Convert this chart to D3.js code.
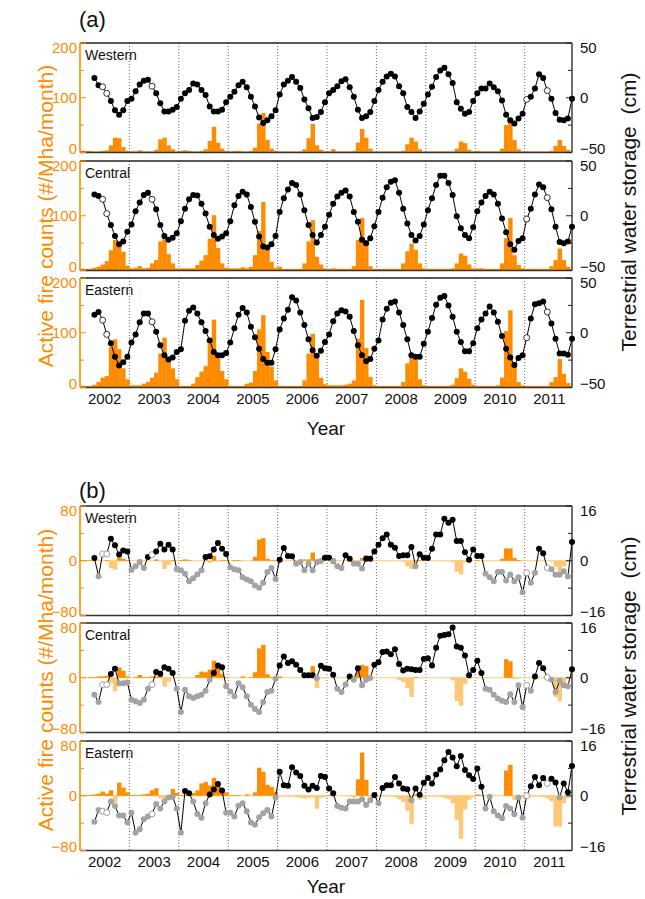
<!DOCTYPE html>
<html>
<head>
<meta charset="utf-8">
<script src="https://cdn.jsdelivr.net/npm/d3@7"></script>
<style>
  body { margin: 0; background: #fff; }
  svg { display: block; }
  text { font-family: "Liberation Sans", Arial, sans-serif; }
</style>
</head>
<body>
<div id="chart"></div>
<script>
/* DATA (monthly, Jan 2002 - Dec 2011, one row per year) */
const years = [2002, 2003, 2004, 2005, 2006, 2007, 2008, 2009, 2010, 2011];
const regions = ["Western", "Central", "Eastern"];
// months where the water storage value is interpolated (open circles): Jun/Jul 2002, Jun 2003, Jan/Jun 2011
const interpolatedMonths = [5, 6, 17, 108, 113];

// (a) active fire counts, #/Mha/month
const fireA_W = [
  [3,3,3,2,2,3,4,13,27,26,10,3],
  [2,2,4,2,2,2,5,24,27,13,6,2],
  [3,4,3,2,2,3,6,21,47,18,7,3],
  [2,3,3,2,2,3,9,53,72,23,7,3],
  [2,2,2,2,2,2,6,26,52,13,5,2],
  [2,6,2,2,2,2,3,18,43,27,7,2],
  [2,2,2,2,2,2,3,15,27,20,6,2],
  [2,2,2,2,2,2,2,7,20,17,5,2],
  [3,2,2,2,2,2,7,50,60,23,6,2],
  [2,2,2,2,2,2,3,12,23,12,5,2]
].flat();
const fireA_C = [
  [3,3,3,5,7,11,17,37,56,49,34,9],
  [4,5,8,4,5,13,19,53,60,30,13,4],
  [4,4,4,4,10,18,28,58,101,41,13,5],
  [4,4,4,6,4,7,28,72,125,38,16,5],
  [7,3,3,3,3,3,13,53,92,25,11,4],
  [3,4,3,3,3,3,8,56,96,55,8,3],
  [3,3,3,3,3,3,13,35,49,38,13,4],
  [3,3,3,3,3,3,4,13,31,27,11,4],
  [4,4,3,3,3,3,13,59,96,28,10,4],
  [3,3,3,3,3,3,8,19,40,19,7,3]
].flat();
const fireA_E = [
  [3,3,3,5,10,18,21,74,88,70,35,15],
  [4,4,4,7,10,18,27,62,91,55,35,15],
  [3,3,3,7,19,29,39,80,124,62,30,15],
  [3,3,3,3,7,9,30,106,132,65,38,13],
  [3,3,3,3,3,3,13,62,98,53,18,6],
  [4,4,4,4,5,7,13,89,160,72,19,4],
  [3,3,3,3,3,3,10,44,59,55,15,4],
  [3,3,3,3,3,3,5,17,35,29,16,5],
  [3,3,3,3,3,4,18,103,141,45,10,4],
  [3,3,3,3,3,3,10,19,52,25,8,3]
].flat();

// (a) terrestrial water storage, cm
const twsA_W = [
  [null,null,null,18,11.5,10,4,-3,-11.5,-15.5,-11.5,-3],
  [-1,6,12,15.5,16.5,10.5,4,-5,-12.5,-12.5,-11,-8.5],
  [-1,4,7,13,12,7,2.5,-8,-12.5,-12.5,-11,-4],
  [1,5.5,11.5,14.5,9.5,1,-8,-18,-23,-20.5,-17,-11.5],
  [3,12,15.5,19,14.5,9,-1.5,-9.5,-18.5,-17.5,-13,-4],
  [4,7,10.5,15,17,9.5,1,-11,-18.5,-17,-13,-3],
  [7,14.5,19.5,22,19.5,10.5,4,-8.5,-13,-18.5,-12.5,-5.5],
  [3,10,19,25,27.5,21.5,13.5,-4,-10,-14.5,-13,-3],
  [4,8.5,8.5,13,9.5,6,-2.5,-15.5,-20.5,-23.5,-19,-14.5],
  [-1.5,1,8.5,21.5,18,6.5,-1,-14,-20,-20.5,-19,-1]
].flat();
const twsA_C = [
  [null,null,null,19.5,18,15,2,-8.5,-18.5,-26,-23.5,-14.5],
  [-8,4,12,19,21,15,6,-8.5,-18.5,-22,-20,-16],
  [-5,6.5,15,19,18.5,11,2,-10,-17.5,-21,-19,-16],
  [-5,9.5,18,22,19.5,8,-5.5,-19,-28,-29,-26,-18.5],
  [3.5,16,24,30,28,19.5,5,-8.5,-17.5,-24.5,-17.5,-10],
  [1,11,17.5,21,23,17.5,3.5,-5.5,-22,-25,-20.5,-9.5],
  [3.5,16.5,26,31,32.5,21,6.5,-7,-17.5,-22.5,-18.5,-8],
  [5,16,28,36.5,36.5,30,19,-0.5,-11.5,-17.5,-20.5,-10.5],
  [4,12,18,22,19.5,11,-2.5,-15,-26,-31,-23,-20.5],
  [-3,6.5,19.5,28.5,26,16.5,6,-10,-24,-25,-23.5,-10]
].flat();
const twsA_E = [
  [null,null,null,16.5,19,11.5,-1.5,-9.5,-22,-30,-27,-22],
  [-9,-1.5,9.5,17.5,17.5,10,1,-11.5,-20.5,-24.5,-22.5,-17.5],
  [-15,11,20,23,17.5,9.5,1.5,-7,-17.5,-20.5,-20.5,-18.5],
  [-9,4,16.5,22.5,18.5,5.5,-4,-14.5,-24,-27.5,-27.5,-15],
  [3,13,21,32.5,29.5,18.5,7,-6,-16,-21,-16.5,-8.5],
  [-1.5,10.5,17.5,20.5,19.5,14.5,1.5,-11.5,-20.5,-26,-24,-14.5],
  [-7,12,22,27.5,28.5,18.5,7,-6,-20.5,-22,-22,-10],
  [1,13.5,25.5,32,33.5,25,14.5,1,-8.5,-17,-17,-9.5],
  [4,12,17.5,24,18.5,10,-3,-14.5,-22.5,-29.5,-23,-20.5],
  [-4.5,13,26,27,28.5,19,8.5,-5.5,-19,-19,-20,-5.5]
].flat();

// (b) fire count anomalies, #/Mha/month
const fireB_W = [
  [1,1,1,0,0,0,1,-11,-13,5,3,1],
  [0,0,2,0,0,0,2,0,-12,-6,1,0],
  [1,2,1,0,0,0,2,-3,7,-1,1,1],
  [0,1,1,0,0,0,6,31,33,3,1,1],
  [0,0,0,0,0,0,2,2,12,-6,-1,0],
  [0,4,0,0,0,0,-1,-5,4,8,2,0],
  [0,0,0,0,0,0,-1,-8,-12,1,1,0],
  [0,0,0,0,0,0,-2,-16,-20,-2,-1,0],
  [1,0,0,0,0,0,3,18,18,4,1,0],
  [0,0,0,0,0,0,-1,-9,-16,-8,-1,0]
].flat();
const fireB_C = [
  [0,0,1,1,2,2,3,-8,-20,15,10,2],
  [0,1,4,1,1,2,2,4,-13,-6,0,0],
  [0,0,0,0,4,9,8,12,25,14,5,1],
  [0,0,0,2,0,1,8,43,48,5,1,0],
  [2,0,0,0,0,0,-1,3,17,-15,-1,0],
  [0,0,0,0,0,0,-1,12,19,17,-1,0],
  [0,0,0,0,0,-3,-6,-15,-28,1,0,0],
  [0,0,0,0,0,-1,-4,-34,-41,-9,-1,0],
  [0,0,0,0,0,0,0,27,24,-2,-1,0],
  [0,0,0,0,0,0,-5,-28,-34,-13,-1,0]
].flat();
const fireB_E = [
  [1,1,1,2,3,6,3,8,-10,19,12,5],
  [1,1,1,2,3,8,11,-4,-5,1,10,4],
  [1,1,1,4,8,18,20,15,26,13,10,5],
  [1,1,1,0,2,0,5,41,35,16,13,6],
  [-1,-1,-1,-1,-2,-3,-4,-3,-2,-19,-3,-2],
  [1,1,0,0,0,-1,-3,24,63,23,-2,-2],
  [-1,-1,-1,-1,-2,-5,-9,-22,-41,2,-6,-3],
  [-1,-1,-1,-2,-3,-5,-11,-35,-63,-20,-6,-2],
  [2,1,0,0,0,0,0,37,45,-6,-8,-3],
  [-1,-1,-1,-1,-2,-4,-8,-45,-45,-11,-3,-1]
].flat();

// (b) water storage anomalies, cm
const twsB_W = [
  [null,null,null,0.8,-4.5,2,2,6.4,4.5,1.8,3,2.7],
  [-2.6,-1.6,-0.4,-2.1,1.1,1.8,2.7,5,3.3,4.7,3.3,-2.5],
  [-2.8,-3.8,-6,-5.1,-4,-2.8,1.1,1.3,3.3,5.2,3.5,2],
  [-1.9,-2.5,-2.8,-4.8,-5.5,-6,-7.2,-7.9,-6.4,-3.3,-2.1,-5.3],
  [0.3,3.7,1.4,1.3,-0.9,-0.4,-2.8,-0.9,-2.8,-0.4,-0.1,0.9],
  [0.9,-0.2,-1.6,-2.1,1.6,0.6,-0.9,-0.9,-2.3,0.6,0.6,2.7],
  [4.7,6.6,7.7,4.7,3.8,1.4,1.6,1.6,4,-1.6,1.9,0.9],
  [0.8,3.5,7.7,7.7,12.3,11.1,12,5.8,5.8,2.5,0.3,3.3],
  [1.4,1.4,-3.8,-4.8,-6,-3.3,-3.3,-5.8,-4,-6,-4.8,-9.2],
  [-3.5,-6.4,-3.5,3.5,2.2,-2.1,-2.5,-4.1,-4.1,-3.1,-4.6,5.5]
].flat();
const twsB_C = [
  [null,null,null,-5,-7.1,-2,-2,1.1,2.6,-1.7,-1.6,-1.4],
  [-6.4,-6.9,-7.4,-6.4,-3.2,-2,1.7,1.2,3.1,2.6,1.4,-3.2],
  [-10,-3.5,-5.4,-5.9,-5.4,-5,-3.8,-0.6,1.4,3.6,3.1,-2.5],
  [-4,-5.4,-1.6,-2.8,-5.4,-7.9,-9.1,-10,-7.1,-4.2,-3.8,-0.3],
  [3.6,6.2,4.3,4.8,3.8,2.3,0.7,0.7,0.7,-0.1,3.5,2.8],
  [2.6,0.9,-3.2,-4.2,-2,0.4,-0.6,2.8,-2.2,-0.6,-0.1,3.8],
  [4.5,7.5,7.7,6.9,8.3,4,2.1,2.6,2.5,2.3,2.3,5.5],
  [5.7,3.6,8.8,12.3,12.5,12.7,14.7,9.1,8.8,6.5,0.7,2.3],
  [5,1.4,-3.2,-3.5,-5,-6.1,-6.7,-7.1,-4.8,-7.1,-2.2,-8.6],
  [-2.2,-3.8,0.4,4.3,2.8,0.1,-0.6,-4.2,-0.9,-2.2,-2.5,2.5]
].flat();
const twsB_E = [
  [null,null,null,-7.6,-4.2,-4.5,-4.9,-1.7,-3,-5.8,-5.8,-7.8],
  [-5,-10.8,-9.8,-6.9,-6.1,-5.3,-2.4,-3.7,-1.7,-0.5,-0.3,-3.7],
  [-10.8,1.4,0.7,-1.7,-5.3,-6.4,-2.2,0.4,1.8,3.4,1.5,-5],
  [-5,-6.1,-2.9,-2.2,-4.5,-7.8,-8.5,-6.3,-5.1,-4.2,-6.1,-0.5],
  [7,3.1,2.9,8.3,6.8,5.8,2.9,1.8,2.9,2.3,5.8,5.5],
  [2.1,0.7,-3,-3.5,-3.7,-1.7,-1.7,-1.7,-1,-2.7,-1.3,0.2],
  [-2.2,2.3,3.1,3.1,5.5,3.6,2.1,1.9,-1.3,2.1,0.3,3.8],
  [5.2,3.6,6.2,7.7,10.4,12.8,11.2,8.6,11.6,7.5,6,4.9],
  [8,2.6,-3.7,-0.3,-4.5,-5.8,-6.6,-3,-3.7,-5.4,-0.5,-6.4],
  [0,2.8,5.5,3.1,5.2,3.6,5,3.9,-0.5,3.6,1,8.7]
].flat();

/* LAYOUT */
const width = 645, height = 899;
const x0 = 80, x1 = 572;
const orange = "#FF8C00", lightOrange = "#FFC878", grey = "#A3A3A3";

// x in months since Jan 2002; the frame ends at the centre of Dec 2011
const xScale = d3.scaleLinear().domain([0, 119.5]).range([x0, x1]);

const svg = d3.select("#chart").append("svg")
  .attr("width", width)
  .attr("height", height);

const panelsA = [
  { name: regions[0], top: 43, fire: fireA_W, tws: twsA_W },
  { name: regions[1], top: 161, fire: fireA_C, tws: twsA_C },
  { name: regions[2], top: 278, fire: fireA_E, tws: twsA_E }
];
const panelsB = [
  { name: regions[0], top: 506, fire: fireB_W, tws: twsB_W },
  { name: regions[1], top: 623, fire: fireB_C, tws: twsB_C },
  { name: regions[2], top: 741, fire: fireB_E, tws: twsB_E }
];
const panelH = 109.5;

const axisA = { left: [0, 200], leftTicks: [0, 100, 200], leftMinor: [50, 150],
  right: [-50, 50], rightTicks: [-50, 0, 50], rightMinor: [-25, 25] };
const axisB = { left: [-80, 80], leftTicks: [-80, 0, 80], leftMinor: [-40, 40],
  right: [-16, 16], rightTicks: [-16, 0, 16], rightMinor: [-8, 8] };

const fmt = d => (d < 0 ? "\u2212" + Math.abs(d) : String(d));

function drawPanel(p, ax, mode) {
  const top = p.top, bottom = p.top + panelH;
  const yL = d3.scaleLinear().domain(ax.left).range([bottom, top]);
  const yR = d3.scaleLinear().domain(ax.right).range([bottom, top]);
  const g = svg.append("g");
  const clipId = "clip-" + mode + "-" + p.name;

  svg.append("clipPath").attr("id", clipId)
    .append("rect")
    .attr("x", x0).attr("y", top)
    .attr("width", x1 - x0).attr("height", panelH);

  // dotted year separators
  g.append("g").selectAll("line")
    .data(years.slice(1))
    .join("line")
    .attr("x1", d => xScale((d - 2002) * 12))
    .attr("x2", d => xScale((d - 2002) * 12))
    .attr("y1", top).attr("y2", bottom)
    .attr("stroke", "#666")
    .attr("stroke-width", 1)
    .attr("stroke-dasharray", "1,2");

  // fire bars
  const bw = xScale(1) - xScale(0);
  const barG = g.append("g").attr("clip-path", `url(#${clipId})`);
  if (mode === "b") {
    barG.append("line")
      .attr("x1", x0).attr("x2", x1)
      .attr("y1", yL(0)).attr("y2", yL(0))
      .attr("stroke", lightOrange)
      .attr("stroke-width", 1);
  }
  barG.selectAll("rect")
    .data(p.fire)
    .join("rect")
    .attr("x", (d, i) => xScale(i))
    .attr("width", bw + 0.3)
    .attr("y", d => yL(Math.max(d, 0)))
    .attr("height", d => Math.abs(yL(d) - yL(0)))
    .attr("fill", d => (mode === "a" || d >= 0) ? orange : lightOrange);

  // frame
  g.append("line").attr("x1", x0).attr("x2", x1).attr("y1", top).attr("y2", top)
    .attr("stroke", "#222").attr("stroke-width", 1.3);
  g.append("line").attr("x1", x0).attr("x2", x1).attr("y1", bottom).attr("y2", bottom)
    .attr("stroke", "#333").attr("stroke-width", 1.3);
  g.append("line").attr("x1", x1).attr("x2", x1).attr("y1", top).attr("y2", bottom)
    .attr("stroke", "#222").attr("stroke-width", 1.3);
  g.append("line").attr("x1", x0).attr("x2", x0).attr("y1", top).attr("y2", bottom)
    .attr("stroke", orange).attr("stroke-width", 1.6);

  // left ticks + labels (orange)
  g.append("g").selectAll("line")
    .data(ax.leftTicks.concat(ax.leftMinor))
    .join("line")
    .attr("x1", x0).attr("x2", d => x0 + (ax.leftTicks.includes(d) ? 6 : 4))
    .attr("y1", d => yL(d)).attr("y2", d => yL(d))
    .attr("stroke", orange).attr("stroke-width", 1);
  g.append("g").selectAll("text")
    .data(ax.leftTicks)
    .join("text")
    .attr("x", x0 - 3)
    .attr("y", d => Math.min(Math.max(yL(d), top + 5), bottom - 4))
    .attr("dy", "0.36em")
    .attr("text-anchor", "end")
    .attr("font-size", 15)
    .attr("fill", orange)
    .text(fmt);

  // right ticks + labels (black)
  g.append("g").selectAll("line")
    .data(ax.rightTicks.concat(ax.rightMinor))
    .join("line")
    .attr("x1", x1).attr("x2", d => x1 - (ax.rightTicks.includes(d) ? 6 : 4))
    .attr("y1", d => yR(d)).attr("y2", d => yR(d))
    .attr("stroke", "#222").attr("stroke-width", 1);
  g.append("g").selectAll("text")
    .data(ax.rightTicks)
    .join("text")
    .attr("x", x1 + 8)
    .attr("y", d => Math.min(Math.max(yR(d), top + 5), bottom - 4))
    .attr("dy", "0.36em")
    .attr("font-size", 15)
    .attr("fill", "#111")
    .text(fmt);

  // water storage line and points
  const pts = p.tws.map((v, i) => ({ i, v })).filter(d => d.v !== null);
  const lineGen = d3.line()
    .x(d => xScale(d.i + 0.5))
    .y(d => yR(d.v));
  g.append("path")
    .datum(pts)
    .attr("d", lineGen)
    .attr("fill", "none")
    .attr("stroke", "#000")
    .attr("stroke-width", 1);

  g.append("g").selectAll("circle")
    .data(pts)
    .join("circle")
    .attr("cx", d => xScale(d.i + 0.5))
    .attr("cy", d => yR(d.v))
    .attr("r", 3)
    .attr("fill", d => interpolatedMonths.includes(d.i) ? "#fff"
      : (mode === "a" || d.v >= 0) ? "#000" : grey)
    .attr("stroke", d => interpolatedMonths.includes(d.i) ? (mode === "a" ? "#000" : "#888") : "none")
    .attr("stroke-width", 0.8);

  // region name
  g.append("text")
    .attr("x", x0 + 5)
    .attr("y", top + 17)
    .attr("font-size", 14)
    .attr("fill", "#111")
    .text(p.name);
}

panelsA.forEach(p => drawPanel(p, axisA, "a"));
panelsB.forEach(p => drawPanel(p, axisB, "b"));

// year labels and x titles
function xLabels(yLabel, yTitle) {
  svg.append("g").selectAll("text")
    .data(years)
    .join("text")
    .attr("x", d => xScale((d - 2002) * 12 + 6))
    .attr("y", yLabel)
    .attr("text-anchor", "middle")
    .attr("font-size", 15)
    .attr("fill", "#111")
    .text(d => d);
  svg.append("text")
    .attr("x", (x0 + x1) / 2)
    .attr("y", yTitle)
    .attr("text-anchor", "middle")
    .attr("font-size", 19)
    .attr("fill", "#111")
    .text("Year");
}
xLabels(404, 435);
xLabels(867, 893);

// panel letters
svg.append("text").attr("x", 79).attr("y", 27).attr("font-size", 22).attr("fill", "#111").text("(a)");
svg.append("text").attr("x", 79).attr("y", 498).attr("font-size", 22).attr("fill", "#111").text("(b)");

// y titles
function yTitles(cy) {
  svg.append("text")
    .attr("transform", `translate(53, ${cy}) rotate(-90)`)
    .attr("text-anchor", "middle")
    .attr("font-size", 21)
    .attr("fill", orange)
    .text("Active fire counts (#/Mha/month)");
  svg.append("text")
    .attr("transform", `translate(636, ${cy - 4}) rotate(-90)`)
    .attr("text-anchor", "middle")
    .attr("font-size", 21)
    .attr("fill", "#111")
    .text("Terrestrial water storage\u00a0 (cm)");
}
yTitles(216);
yTitles(680);
</script>
</body>
</html>
